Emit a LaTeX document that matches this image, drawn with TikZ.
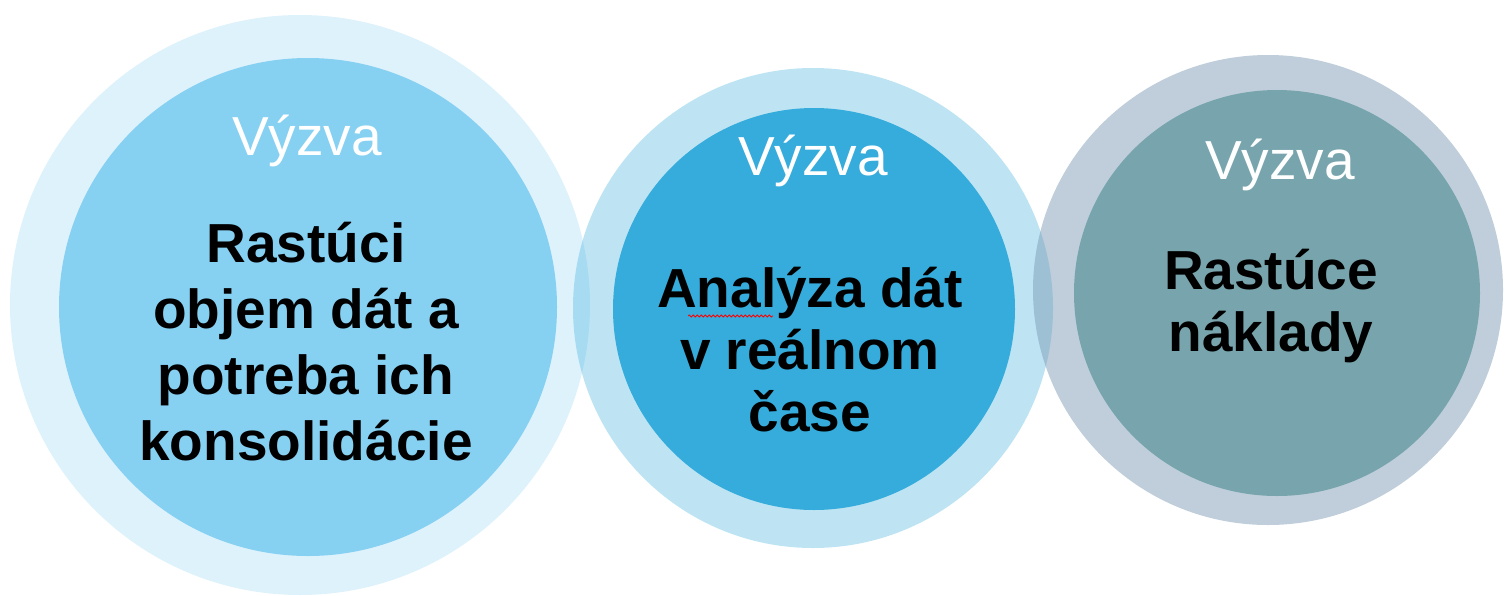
\documentclass[tikz,border=0pt]{standalone}
\usepackage{fontspec}
\setmainfont{Liberation Sans}
\usetikzlibrary{decorations.pathmorphing}

\newlength{\du}
\setlength{\du}{1pt}

\tikzset{
  halo/.style={fill=#1, fill opacity=0.3},
  core/.style={fill=#1},
  title/.style={anchor=base, text=white, font=\fontsize{55}{64}\selectfont},
  body/.style={align=center, text=black, font=\fontsize{55}{#1}\selectfont\bfseries},
  body/.default=64,
}

\begin{document}
\begin{tikzpicture}
\pgftransformxscale{1.000000}
\pgftransformyscale{-1.000000}
\definecolor{lightcolor}{rgb}{0.525490, 0.815686, 0.949020}
\definecolor{midcolor}{rgb}{0.207843, 0.674510, 0.858824}
\definecolor{slatecolor}{rgb}{0.498039, 0.615686, 0.709804}
\definecolor{tealcolor}{rgb}{0.470588, 0.647059, 0.678431}

\useasboundingbox (0\du,0\du) rectangle (1505\du,595\du);

% outer rings, see-through where they overlap
\fill[halo=lightcolor, fill opacity=0.28] (300\du,305\du) circle (290\du);
\fill[halo=midcolor, fill opacity=0.32] (813\du,308\du) circle (240\du);
\fill[halo=slatecolor, fill opacity=0.5] (1268\du,290\du) circle (235\du);

% inner discs
\fill[core=lightcolor] (308\du,307\du) circle (249\du);
\fill[core=midcolor] (814\du,309\du) circle (201\du);
\fill[core=tealcolor] (1277\du,293\du) circle (203\du);

\node[title] (v1) at (307\du,155\du) {Výzva};
\node[title] (v2) at (813\du,175\du) {Výzva};
\node[title] (v3) at (1280\du,179\du) {Výzva};

\node[body=66] (b1) at (306\du,342\du) {Rastúci\\objem dát a\\potreba ich\\konsolidácie};
\node[body=62] (b2) at (810\du,350\du) {Analýza dát\\v reálnom\\čase};
\node[body=62] (b3) at (1271\du,306\du) {Rastúce\\náklady};

%spelling mark
\draw[red, line width=0.8\du, decorate, decoration={snake, amplitude=1\du, segment length=4\du}] (688\du,316\du)--(773\du,316\du);
\end{tikzpicture}
\end{document}
